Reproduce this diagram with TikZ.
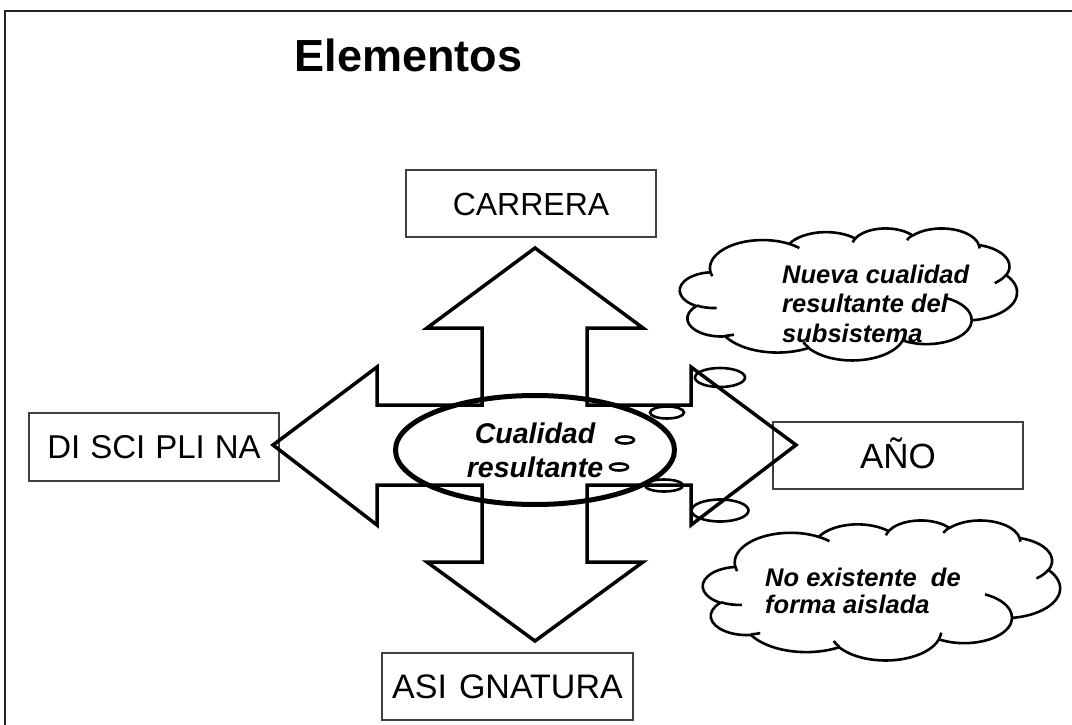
\documentclass[tikz,border=0pt]{standalone}
\usepackage{fontspec}
\setmainfont{Liberation Sans}
\usetikzlibrary{shapes.geometric}
\tikzset{
  framelines/.style={line width=2pt, black!85},
  boxnode/.style={draw=black!75, line width=1.3pt, inner sep=0pt, minimum height=67pt, text depth=0pt},
  quadarrow/.style={draw=black, line width=3.5pt, line join=miter},
  coreell/.style={draw=black, ellipse, line width=5pt, minimum width=279pt, minimum height=109pt, inner sep=0pt, align=center, font=\fontsize{28.5}{34}\selectfont\bfseries\itshape},
  bubble/.style={draw=black, ellipse, line width=2.6pt, inner sep=0pt},
  cloudline/.style={draw=black, line width=2.6pt, line join=round},
  cloudtext/.style={inner sep=0pt, align=left, anchor=north west},
}
\newcommand{\mycloud}{%
  \draw[cloudline] (39.00,143.70)
   arc[start angle=172.26, end angle=300.36, x radius=67.53, y radius=91.90]
   arc[start angle=-152.02, end angle=-45.46, x radius=53.33, y radius=72.67]
   arc[start angle=-153.49, end angle=-37.33, x radius=43.65, y radius=59.45]
   arc[start angle=-139.72, end angle=-10.22, x radius=48.57, y radius=65.95]
   arc[start angle=-74.77, end angle=23.22, x radius=53.33, y radius=72.73]
   arc[start angle=-37.52, end angle=81.86, x radius=67.75, y radius=92.20]
   arc[start angle=0.46, end angle=122.0, x radius=57.85, y radius=78.67]
   arc[start angle=16.85, end angle=146.23, x radius=67.52, y radius=92.15]
   arc[start angle=58.98, end angle=150.19, x radius=77.20, y radius=105.43]
   arc[start angle=83.31, end angle=223.12, x radius=43.60, y radius=59.18]
   arc[start angle=120.34, end angle=264.11, x radius=43.45, y radius=59.45]
   -- cycle;
  \draw[cloudline]
   (46.93,261.77) arc[start angle=85.54, end angle=120.34, x radius=43.45, y radius=59.45]
   (69.28,348.99) arc[start angle=68.24, end angle=83.31, x radius=43.60, y radius=59.18]
   (164.78,390.90) arc[start angle=146.23, end angle=158.47, x radius=67.52, y radius=92.15]
   (288.27,347.51) arc[start angle=4.74, end angle=16.85, x radius=67.52, y radius=92.15]
   (341.29,229.54) arc[start angle=-64.03, end angle=0.46, x radius=57.85, y radius=78.67]
   (417.98,153.54) arc[start angle=23.22, end angle=49.64, x radius=53.33, y radius=72.73]
   (383.24,54.26) arc[start angle=-10.21, end angle=0.82, x radius=48.57, y radius=65.95]
   (290.78,39.52) arc[start angle=-156.30, end angle=-139.72, x radius=48.57, y radius=65.95]
   (221.41,47.20) arc[start angle=-167.72, end angle=-153.49, x radius=43.65, y radius=59.45]
   (140.00,51.92) arc[start angle=-59.64, end angle=-45.74, x radius=67.53, y radius=91.90]
   (41.27,157.89) arc[start angle=163.19, end angle=172.25, x radius=67.53, y radius=91.90];
}
\begin{document}
\begin{tikzpicture}[x=1pt, y=-1pt]
\useasboundingbox (0,0) rectangle (1072,725);
\fill[white] (0,0) rectangle (1072,725);
% frame
\draw[framelines] (5,740) -- (5,11) -- (1090,11);
% title
\node[anchor=base, inner sep=0pt, font=\fontsize{45}{54}\selectfont\bfseries] (title) at (408.5,72) {Elementos};
% boxes
\node[boxnode, minimum width=250pt, text height=23pt, font=\fontsize{32}{38}\selectfont] (carrera) at (531,203.5) {CARRERA};
\node[boxnode, minimum width=250pt, minimum height=68pt, text height=23.6pt, font=\fontsize{33}{40}\selectfont] (disciplina) at (154,447) {DI\kern10pt SCI\kern10pt PLI\kern10pt NA};
\node[boxnode, minimum width=250pt, text height=25pt, font=\fontsize{35}{42}\selectfont] (anio) at (898,455.5) {AÑO};
\node[boxnode, minimum width=251pt, text height=24.3pt, font=\fontsize{34}{41}\selectfont] (asignatura) at (507.5,686.5) {ASI\kern12pt GNATURA};
% quad arrow
\draw[quadarrow] (535,248) -- (643,328) -- (587,328) -- (587,405) -- (691,405) -- (691,367)
  -- (796,445) -- (691,525) -- (691,485) -- (587,485) -- (587,562) -- (643,562)
  -- (535,641) -- (427,562) -- (482,562) -- (482,485) -- (377,485) -- (377,525)
  -- (273,445) -- (377,367) -- (377,405) -- (482,405) -- (482,328) -- (427,328) -- cycle;
% central ellipse
\node[coreell] (core) at (535,450) {Cualidad\\resultante};
% thought bubbles
\node[bubble, minimum width=18pt, minimum height=7pt] (b1) at (625,440) {};
\node[bubble, minimum width=18pt, minimum height=7pt] (b2) at (619,467) {};
\node[bubble, minimum width=34pt, minimum height=12pt] (b3) at (667,412.5) {};
\node[bubble, minimum width=50pt, minimum height=19pt] (b4) at (720,377.5) {};
\node[bubble, minimum width=38pt, minimum height=12pt] (b5) at (664,485.5) {};
\node[bubble, minimum width=57pt, minimum height=22pt] (b6) at (720,510.5) {};
% cloud 1
\begin{scope}[xshift=680pt, yshift=-228pt, x={(0.78009pt,0pt)}, y={(0pt,-0.30556pt)}]
\mycloud
\end{scope}
% cloud 2
\begin{scope}[xshift=703pt, yshift=-520pt, x={(0.82639pt,0pt)}, y={(0pt,-0.32407pt)}]
\mycloud
\end{scope}
\node[cloudtext, font=\fontsize{25.5}{29.5}\selectfont\bfseries\itshape] (nueva) at (782,264.4) {Nueva cualidad\\resultante del\\subsistema};
\node[cloudtext, font=\fontsize{25.5}{27}\selectfont\bfseries\itshape] (noexist) at (765,567.4) {No existente~ de\\forma aislada};
\end{tikzpicture}
\end{document}
